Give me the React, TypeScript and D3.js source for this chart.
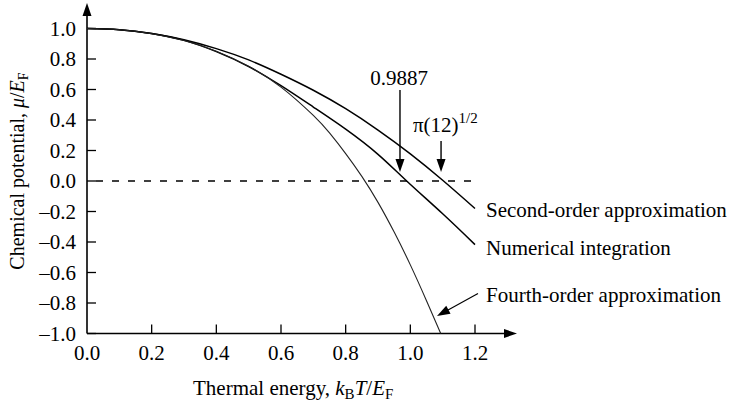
import React from "react";
import * as d3 from "d3";

const xTicks = [0, 0.2, 0.4, 0.6, 0.8, 1.0, 1.2];
const yTicks = [1.0, 0.8, 0.6, 0.4, 0.2, 0.0, -0.2, -0.4, -0.6, -0.8, -1.0];

const secondT = [0, 0.1, 0.2, 0.3, 0.4, 0.5, 0.6, 0.7, 0.8, 0.9, 1.0, 1.1, 1.2];
const secondMu = [1.0, 0.992, 0.967, 0.926, 0.868, 0.794, 0.7, 0.595, 0.474, 0.334, 0.178, 0.005, -0.18];

const numT = [0, 0.1, 0.2, 0.3, 0.4, 0.5, 0.6, 0.7, 0.8, 0.9, 0.9887, 1.1, 1.2];
const numMu = [1.0, 0.992, 0.967, 0.922, 0.848, 0.75, 0.625, 0.485, 0.34, 0.175, 0.0, -0.215, -0.417];

const fourthT = [0, 0.1, 0.2, 0.3, 0.4, 0.5, 0.6, 0.7, 0.75, 0.8, 0.85, 0.9, 0.95, 1.0, 1.05, 1.094];
const fourthMu = [1.0, 0.992, 0.966, 0.921, 0.851, 0.752, 0.616, 0.43, 0.315, 0.18, 0.03, -0.14, -0.335, -0.55, -0.785, -1.0];

const markerZeroNumerical = 0.968;
const markerZeroSecond = 1.095;

const FONT = "'Liberation Serif', 'DejaVu Serif', 'Times New Roman', Times, serif";

export default function App() {
  const x = d3.scaleLinear().domain([0, 1.2]).range([87, 475]);
  const y = d3.scaleLinear().domain([-1, 1]).range([333.5, 28.5]);
  const line = d3
    .line<[number, number]>()
    .x((d) => x(d[0]))
    .y((d) => y(d[1]))
    .curve(d3.curveNatural);

  const pts = (ts: number[], ms: number[]) => ts.map((t, i) => [t, ms[i]] as [number, number]);

  const x0 = x(0);
  const yBase = y(-1);

  const arrowHead = (tx: number, ty: number, angle: number, len = 13, w = 4.5) => {
    const bx = tx - len * Math.cos(angle);
    const by = ty - len * Math.sin(angle);
    const px = -Math.sin(angle) * w;
    const py = Math.cos(angle) * w;
    return `M${tx},${ty} L${bx + px},${by + py} L${bx - px},${by - py} Z`;
  };

  const fourthTip: [number, number] = [437, 316];
  const fourthStart: [number, number] = [478, 293.5];
  const fAngle = Math.atan2(fourthTip[1] - fourthStart[1], fourthTip[0] - fourthStart[0]);

  const textStyle = { fontFamily: FONT };
  const FS = 21;

  return (
    <svg
      width={733}
      height={407}
      style={{ position: "absolute", left: 0, top: 0, background: "#fff", fontFamily: FONT }}
    >
      <rect width={733} height={407} fill="#fff" />
      {/* axes */}
      <line x1={x0} y1={yBase} x2={x0} y2={12} stroke="#000" strokeWidth={1.6} />
      <path d={arrowHead(x0, 3, -Math.PI / 2, 13, 4.5)} fill="#000" />
      <line x1={x0} y1={yBase} x2={508} y2={yBase} stroke="#000" strokeWidth={1.6} />
      <path d={arrowHead(517, yBase, 0, 13, 4.5)} fill="#000" />

      {yTicks.map((v) => (
        <g key={"y" + v}>
          <line x1={x0} x2={x0 + 9} y1={y(v)} y2={y(v)} stroke="#000" strokeWidth={1.3} />
          <text x={76} y={y(v)} dy="0.35em" textAnchor="end" fontSize={FS} style={textStyle}>
            {v < 0 ? "\u2013" + Math.abs(v).toFixed(1) : v.toFixed(1)}
          </text>
        </g>
      ))}
      {xTicks.map((v) => (
        <g key={"x" + v}>
          {v > 0 && (
            <line x1={x(v)} x2={x(v)} y1={yBase} y2={yBase - 9} stroke="#000" strokeWidth={1.3} />
          )}
          <text x={x(v)} y={359.5} textAnchor="middle" fontSize={FS} style={textStyle}>
            {v.toFixed(1)}
          </text>
        </g>
      ))}

      {/* dashed zero line */}
      <line
        x1={x0}
        x2={472}
        y1={y(0)}
        y2={y(0)}
        stroke="#000"
        strokeWidth={1.4}
        strokeDasharray="7,9"
        strokeDashoffset={7}
      />

      {/* curves */}
      <path d={line(pts(secondT, secondMu)) || ""} fill="none" stroke="#000" strokeWidth={1.5} />
      <path d={line(pts(numT, numMu)) || ""} fill="none" stroke="#000" strokeWidth={1.5} />
      <path d={line(pts(fourthT, fourthMu)) || ""} fill="none" stroke="#222" strokeWidth={1.1} />

      {/* annotations */}
      <text x={399} y={85} textAnchor="middle" fontSize={FS} style={textStyle}>0.9887</text>
      <line x1={x(markerZeroNumerical)} x2={x(markerZeroNumerical)} y1={90} y2={162} stroke="#000" strokeWidth={1.4} />
      <path d={arrowHead(x(markerZeroNumerical), 172, Math.PI / 2, 13, 4.5)} fill="#000" />

      <text x={413} y={131.5} fontSize={FS} style={textStyle}>
        {"\u03c0(12)"}
        <tspan fontSize={15} dy={-9}>1/2</tspan>
      </text>
      <line x1={x(markerZeroSecond)} x2={x(markerZeroSecond)} y1={141} y2={162} stroke="#000" strokeWidth={1.4} />
      <path d={arrowHead(x(markerZeroSecond), 172, Math.PI / 2, 13, 4.5)} fill="#000" />

      <text x={486} y={216.5} fontSize={FS} style={textStyle}>Second-order approximation</text>
      <text x={486} y={255} fontSize={FS} style={textStyle}>Numerical integration</text>
      <text x={486} y={301.5} fontSize={FS} style={textStyle}>Fourth-order approximation</text>
      <line
        x1={fourthStart[0]}
        y1={fourthStart[1]}
        x2={fourthTip[0] - 10 * Math.cos(fAngle)}
        y2={fourthTip[1] - 10 * Math.sin(fAngle)}
        stroke="#000"
        strokeWidth={1.2}
      />
      <path d={arrowHead(fourthTip[0], fourthTip[1], fAngle, 13, 4.5)} fill="#000" />

      {/* axis titles */}
      <text x={193} y={395} fontSize={FS} style={textStyle}>
        {"Thermal energy, "}
        <tspan fontStyle="italic">k</tspan>
        <tspan fontSize={15} dy={4}>B</tspan>
        <tspan fontStyle="italic" dy={-4}>T</tspan>
        <tspan>/</tspan>
        <tspan fontStyle="italic">E</tspan>
        <tspan fontSize={15} dy={4}>F</tspan>
      </text>
      <text transform="translate(23.5,171) rotate(-90)" textAnchor="middle" fontSize={20} style={textStyle}>
        {"Chemical potential, "}
        <tspan fontStyle="italic">{"\u03bc"}</tspan>
        <tspan>/</tspan>
        <tspan fontStyle="italic">E</tspan>
        <tspan fontSize={14} dy={4}>F</tspan>
      </text>
    </svg>
  );
}
